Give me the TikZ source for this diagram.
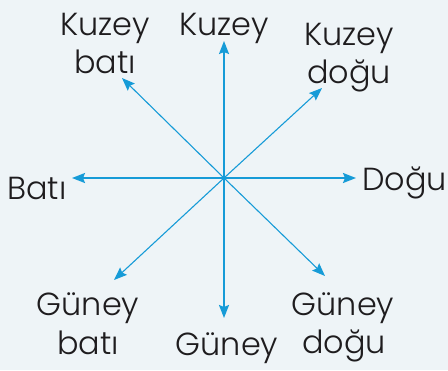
\documentclass[tikz,border=0pt]{standalone}
\usepackage{fontspec}
\setmainfont{Poppins Light}
\usetikzlibrary{arrows.meta}
\definecolor{bgc}{RGB}{238,244,247}
\definecolor{arr}{RGB}{22,155,215}
\definecolor{txt}{RGB}{30,28,30}
\begin{document}
\begin{tikzpicture}[x=1bp,y=-1bp,
  lbl/.style={text=txt,inner sep=0pt,anchor=base,font=\fontsize{32}{38}\selectfont},
  ax/.style={draw=arr,line width=1.8bp,-{Stealth[length=13bp,width=10bp,inset=2bp]}},
  dg/.style={draw=arr,line width=1.1bp,-{Stealth[length=13bp,width=10bp,inset=2bp]}}]
\fill[bgc] (0,0) rectangle (448,370);
\useasboundingbox (0,0) rectangle (448,370);
\coordinate (c) at (224,178);
\coordinate (n) at (224,41);
\coordinate (s) at (224,318);
\coordinate (e) at (356,178);
\coordinate (w) at (72,178);
\coordinate (ne) at (322,88);
\coordinate (nw) at (122,78);
\coordinate (se) at (325,276);
\coordinate (sw) at (114,280);
\draw[ax] (c) -- (n);
\draw[ax] (c) -- (s);
\draw[ax] (c) -- (e);
\draw[ax] (c) -- (w);
\draw[dg] (c) -- (ne);
\draw[dg] (c) -- (nw);
\draw[dg] (c) -- (se);
\draw[dg] (c) -- (sw);
\node[lbl] (tn) at (224,35) {Kuzey};
\node[lbl] (tnw1) at (105,35) {Kuzey};
\node[lbl] (tnw2) at (105,73) {batı};
\node[lbl] (tne1) at (349,45) {Kuzey};
\node[lbl] (tne2) at (349,83) {doğu};
\node[lbl,anchor=base west] (te) at (362,190) {Doğu};
\node[lbl,anchor=base west] (tw) at (7,199) {Batı};
\node[lbl] (tsw1) at (88,315) {Güney};
\node[lbl] (tsw2) at (88,354) {batı};
\node[lbl] (ts) at (227,355) {Güney};
\node[lbl] (tse1) at (343,315) {Güney};
\node[lbl] (tse2) at (344,353) {doğu};
\end{tikzpicture}
\end{document}
